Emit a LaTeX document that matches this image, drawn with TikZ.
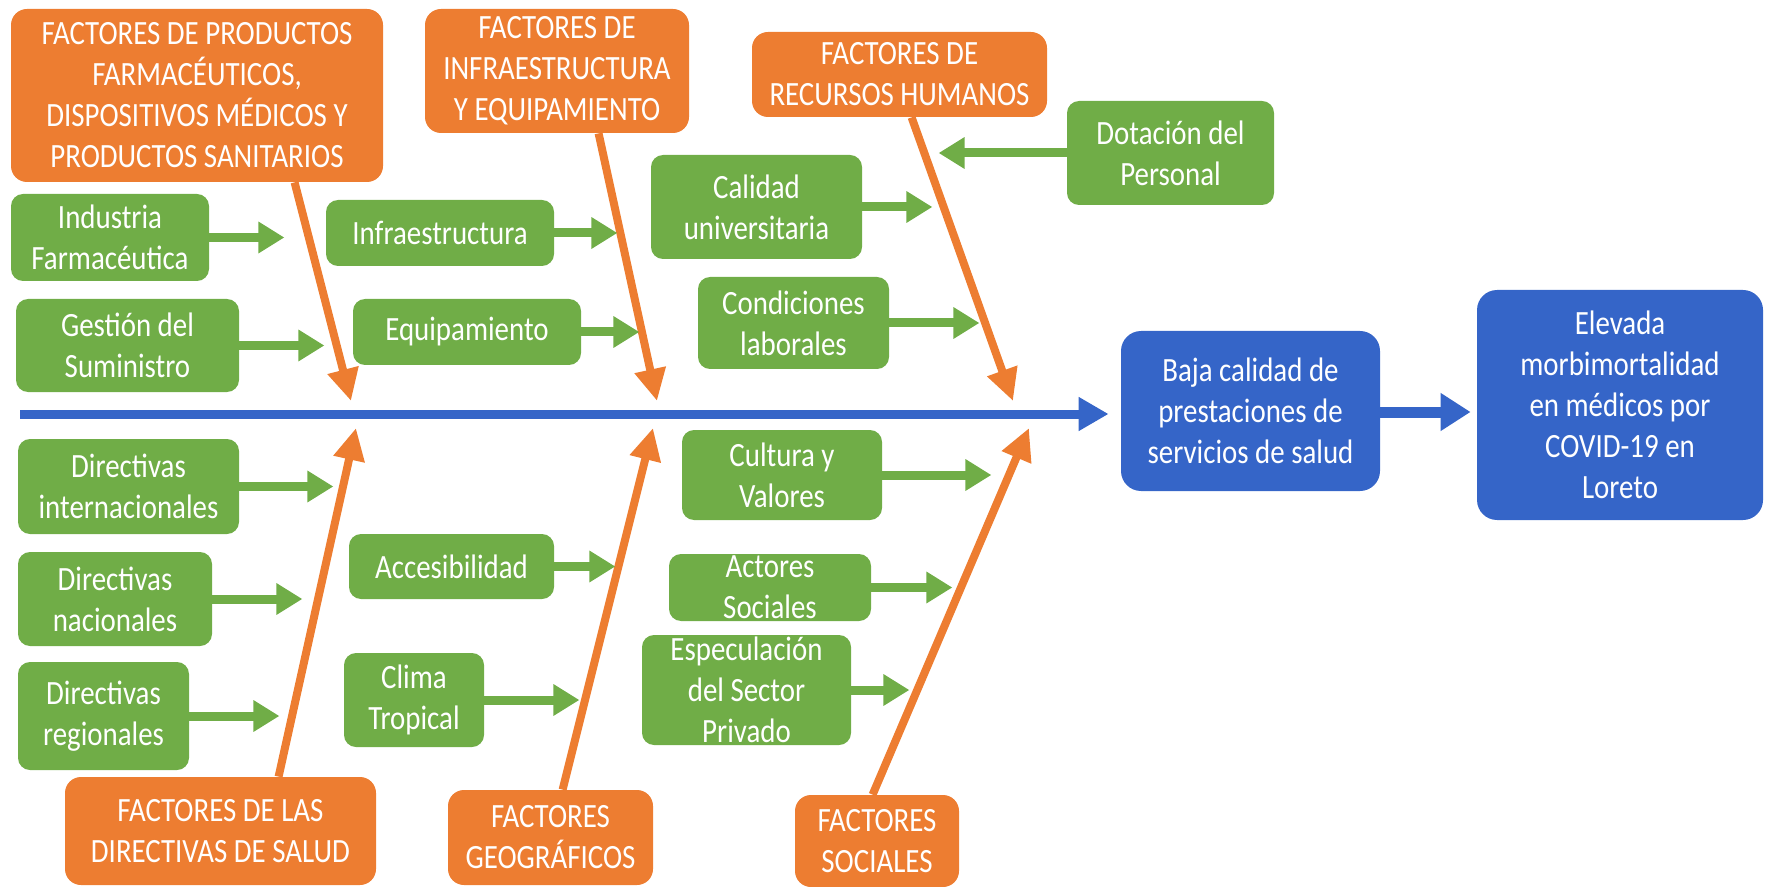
\documentclass[tikz,border=0pt]{standalone}
\usepackage{fontspec}
\setmainfont[FakeStretch=0.85]{Carlito}
\usetikzlibrary{arrows.meta,calc}
\definecolor{facorange}{HTML}{ED7D31}
\definecolor{subgreen}{HTML}{70AD47}
\definecolor{effblue}{HTML}{3565C8}

\begin{document}
\begin{tikzpicture}[x=0.5pt,y=-0.5pt,
  base/.style={text=white, align=center, inner sep=0pt, font=\fontsize{17}{20.5}\selectfont},
  cat/.style={base, fill=facorange, rounded corners=8pt},
  sub/.style={base, fill=subgreen, rounded corners=6pt},
  eff/.style={base, fill=effblue, rounded corners=10pt},
  catarrow/.style={draw=facorange, line width=4pt, -{Triangle[width=15pt,length=16pt]}},
  subarrow/.style={draw=subgreen, line width=4.5pt, -{Triangle[width=15pt,length=13pt]}},
  spine/.style={draw=effblue, line width=4.5pt, -{Triangle[width=16pt,length=15pt]}},
  link/.style={draw=effblue, line width=5.5pt, -{Triangle[width=18pt,length=15pt]}},
]
\useasboundingbox (0,0) rectangle (1765,887);

% category boxes (top row)
\node[cat, minimum width=186pt, minimum height=86.5pt] (prod) at (197,95.5)
  {FACTORES DE PRODUCTOS\\FARMACÉUTICOS,\\DISPOSITIVOS MÉDICOS Y\\PRODUCTOS SANITARIOS};
\node[cat, minimum width=132pt, minimum height=62pt] (infra) at (557,71)
  {FACTORES DE\\INFRAESTRUCTURA\\Y EQUIPAMIENTO};
\node[cat, minimum width=147.5pt, minimum height=42.5pt] (rrhh) at (899.5,74.5)
  {FACTORES DE\\RECURSOS HUMANOS};

% category boxes (bottom row)
\node[cat, minimum width=155.5pt, minimum height=54pt] (dirs) at (220.5,831)
  {FACTORES DE LAS\\DIRECTIVAS DE SALUD};
\node[cat, minimum width=102.5pt, minimum height=47.5pt] (geo) at (550.5,837.5)
  {FACTORES\\GEOGRÁFICOS};
\node[cat, minimum width=82pt, minimum height=46pt] (soc) at (877,841)
  {FACTORES\\SOCIALES};

% sub-causes above the spine
\node[sub, minimum width=103.5pt, minimum height=52pt] (dot) at (1170.5,153) {Dotación del\\Personal};
\node[sub, minimum width=105.5pt, minimum height=52pt] (cal) at (756.5,207) {Calidad\\universitaria};
\node[sub, minimum width=99pt, minimum height=43.5pt] (ind) at (110,237.5) {Industria\\Farmacéutica};
\node[sub, minimum width=114pt, minimum height=33pt] (infr) at (440,233) {Infraestructura};
\node[sub, minimum width=95.5pt, minimum height=46pt] (cond) at (793.5,323) {Condiciones\\laborales};
\node[sub, minimum width=111.5pt, minimum height=46.5pt] (ges) at (127.5,345.5) {Gestión del\\Suministro};
\node[sub, minimum width=114pt, minimum height=33pt] (equ) at (467,332) {Equipamiento};

% sub-causes below the spine
\node[sub, minimum width=110.5pt, minimum height=47.5pt] (dint) at (128.5,486.5) {Directivas\\internacionales};
\node[sub, minimum width=100pt, minimum height=45pt] (cult) at (782,475) {Cultura y\\Valores};
\node[sub, minimum width=102.5pt, minimum height=32.5pt] (acc) at (451.5,566.5) {Accesibilidad};
\node[sub, minimum width=101pt, minimum height=33.5pt] (act) at (770,587.5) {Actores\\Sociales};
\node[sub, minimum width=97pt, minimum height=47pt] (dnac) at (115,599) {Directivas\\nacionales};
\node[sub, minimum width=104.5pt, minimum height=55pt] (esp) at (746.5,690) {Especulación\\del Sector\\Privado};
\node[sub, minimum width=70pt, minimum height=47pt] (clima) at (414,700) {Clima\\Tropical};
\node[sub, minimum width=85.5pt, minimum height=54pt] (dreg) at (103.5,716) {Directivas\\regionales};

% effect boxes
\node[eff, minimum width=129.5pt, minimum height=80pt] (baja) at (1250.5,411)
  {Baja calidad de\\prestaciones de\\servicios de salud};
\node[eff, minimum width=143pt, minimum height=115pt] (elev) at (1620,405)
  {Elevada\\morbimortalidad\\en médicos por\\COVID-19 en\\Loreto};

% spine
\coordinate (tail) at (20,414);
\draw[spine, shorten >=6pt] (tail) -- (tail -| baja.west);
\draw[link, shorten >=3pt] (baja.east |- 0,412) -- (elev.west |- 0,412);

% spine points reached by the category bones
\coordinate (p1) at (351,401);
\coordinate (p2) at (657,401);
\coordinate (p3) at (1013,401);
\coordinate (q1) at (356,428);
\coordinate (q2) at (653,428);
\coordinate (q3) at (1029,428);

\draw[catarrow] ($(prod.south west)+(284,0)$) -- (p1);
\draw[catarrow] ($(infra.south west)+(174,0)$) -- (p2);
\draw[catarrow] ($(rrhh.south west)+(160,0)$) -- (p3);
\draw[catarrow] ($(dirs.north west)+(214,0)$) -- (q1);
\draw[catarrow] ($(geo.north west)+(115,0)$) -- (q2);
\draw[catarrow] ($(soc.north west)+(78,0)$) -- (q3);

% sub-cause arrows
\draw[subarrow] (ind.east) -- ++(75,0);
\draw[subarrow] (ges.east) -- ++(85,0);
\draw[subarrow] (infr.east) -- ++(63,0);
\draw[subarrow] (equ.east) -- ++(58,0);
\draw[subarrow] (cal.east) -- ++(70,0);
\draw[subarrow] (cond.east) -- ++(90,0);
\draw[subarrow] (dot.west) -- ++(-128,0);
\draw[subarrow] (dint.east) -- ++(94,0);
\draw[subarrow] (dnac.east) -- ++(90,0);
\draw[subarrow] (dreg.east) -- ++(90,0);
\draw[subarrow] (acc.east) -- ++(61,0);
\draw[subarrow] (clima.east) -- ++(95,0);
\draw[subarrow] (cult.east) -- ++(109,0);
\draw[subarrow] (act.east) -- ++(81,0);
\draw[subarrow] (esp.east) -- ++(58,0);
\end{tikzpicture}
\end{document}
